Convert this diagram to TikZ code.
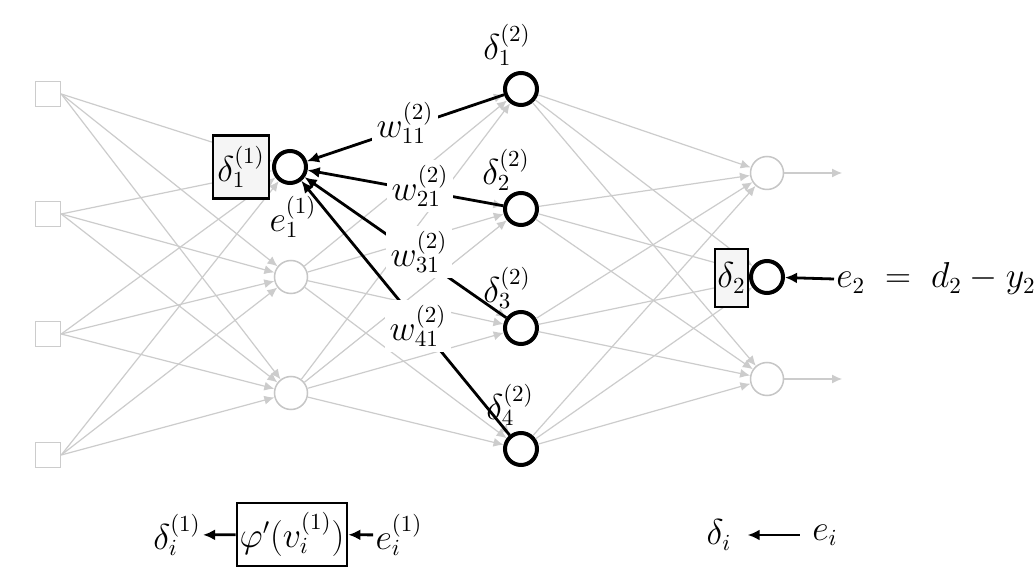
\RequirePackage{fix-cm}
\documentclass[tikz,border=0pt]{standalone}
\usetikzlibrary{arrows.meta}
\DeclareMathSizes{18}{18}{11.5}{9}
\begin{document}
\begin{tikzpicture}[x=0.5pt,y=-0.5pt,
  font=\fontsize{18}{22}\selectfont,
  insq/.style={draw=gray!40, line width=0.75pt, minimum size=12.5pt, inner sep=0pt},
  gcirc/.style={circle, draw=gray!45, line width=0.75pt, minimum size=16.5pt, inner sep=0pt},
  bcirc/.style={circle, draw=black, line width=2pt, minimum size=16pt, inner sep=0pt, fill=white},
  gedge/.style={draw=gray!40, line width=0.6pt, -{Latex[length=5pt,width=4.5pt]}},
  bedge/.style={draw=black, line width=1.4pt, -{Latex[length=6pt,width=5.5pt]}},
  dbox/.style={draw, line width=1.4pt, fill=gray!8, inner sep=0pt},
  pbox/.style={draw, line width=1.4pt, fill=white, inner sep=0pt},
  wlab/.style={fill=white, inner sep=2.5pt},
  txt/.style={inner sep=1pt}]
\fill[white] (0,0) rectangle (1034,587);
\useasboundingbox (0,0) rectangle (1034,587);
% input layer
\node[insq] (in1) at (48,94) {};
\node[insq] (in2) at (48,214) {};
\node[insq] (in3) at (48,334) {};
\node[insq] (in4) at (48,455) {};
% hidden layer 1
\node[bcirc] (h1) at (290,167) {};
\node[gcirc] (h2) at (291,277) {};
\node[gcirc] (h3) at (291,393) {};
% hidden layer 2
\node[bcirc] (g1) at (521,89) {};
\node[bcirc] (g2) at (521,209) {};
\node[bcirc] (g3) at (521,328) {};
\node[bcirc] (g4) at (521,449) {};
% output layer
\node[gcirc] (o1) at (767,173) {};
\node[bcirc] (o2) at (767,277) {};
\node[gcirc] (o3) at (767,379) {};
\coordinate (x1) at (842,173);
\coordinate (x3) at (842,379);
% grey edges
\foreach \i in {1,...,4}{\foreach \j in {1,2,3}{\draw[gedge] (in\i.east) -- (h\j);}}
\foreach \i in {1,2,3}{\foreach \j in {1,...,4}{\draw[gedge] (h\i) -- (g\j);}}
\foreach \i in {1,...,4}{\foreach \j in {1,2,3}{\draw[gedge] (g\i) -- (o\j);}}
\draw[gedge] (o1) -- (x1);
\draw[gedge] (o3) -- (x3);
% delta boxes
\node[dbox, minimum width=28pt, minimum height=31.5pt] (d1) at (241,167) {$\delta_1^{(1)}$};
\node[dbox, minimum width=16.5pt, minimum height=29pt] (d2) at (731.5,278) {$\delta_2$};
% black back-propagation edges
\draw[bedge] (g1) -- (h1);
\draw[bedge] (g2) -- (h1);
\draw[bedge] (g3) -- (h1);
\draw[bedge] (g4) -- (h1);
\node[wlab] (w1) at (405,123) {$w_{11}^{(2)}$};
\node[wlab] (w2) at (420,186) {$w_{21}^{(2)}$};
\node[wlab] (w3) at (419,252) {$w_{31}^{(2)}$};
\node[wlab] (w4) at (418,326) {$w_{41}^{(2)}$};
% delta labels
\node[txt] (l1) at (507,45) {$\delta_1^{(2)}$};
\node[txt] (l2) at (506,170) {$\delta_2^{(2)}$};
\node[txt] (l3) at (507,288) {$\delta_3^{(2)}$};
\node[txt] (l4) at (510,405) {$\delta_4^{(2)}$};
\node[txt] (e1) at (293,217) {$e_1^{(1)}$};
% output error
\node[txt, anchor=west] (et) at (834,279) {$e_2\;=\;d_2-y_2$};
\draw[bedge] (et.west) -- (o2);
% bottom legend
\node[pbox, minimum width=55pt, minimum height=31.5pt] (pb) at (292,534.5) {$\varphi'(v_i^{(1)})$};
\node[txt] (di1) at (177,535) {$\delta_i^{(1)}$};
\node[txt] (ei1) at (399,535) {$e_i^{(1)}$};
\draw[bedge] (pb) -- (di1);
\draw[bedge] (ei1) -- (pb);
\node[txt] (di) at (719,535) {$\delta_i$};
\node[txt] (ei) at (825,535) {$e_i$};
\draw[bedge, shorten <=5pt, shorten >=7pt] (ei) -- (di);
\end{tikzpicture}
\end{document}
